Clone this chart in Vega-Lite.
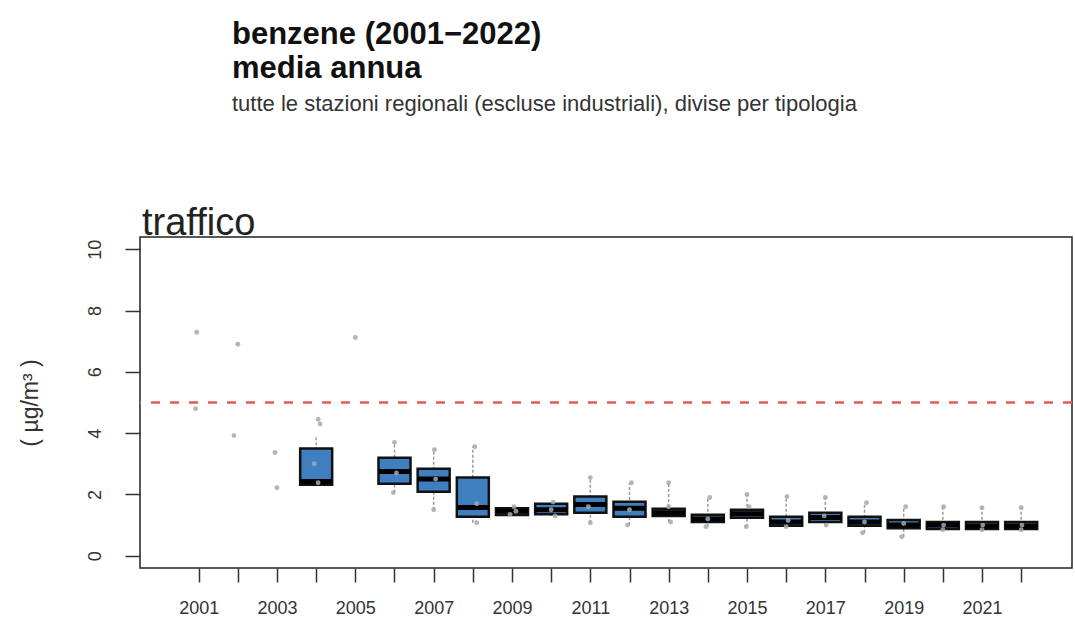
{
  "$schema": "https://vega.github.io/schema/vega-lite/v6.json",
  "width": 932,
  "height": 331,
  "autosize": {"type": "none"},
  "padding": {"left": 140, "top": 237, "right": 3, "bottom": 56},
  "background": "white",
  "config": {
    "font": "Liberation Sans",
    "view": {"stroke": "#222222", "strokeWidth": 1.5}
  },
  "title": {
    "text": ["benzene (2001−2022)", "media annua"],
    "subtitle": "tutte le stazioni regionali (escluse industriali), divise per tipologia",
    "anchor": "start",
    "frame": "group",
    "dx": 92,
    "offset": 89,
    "fontSize": 31,
    "fontWeight": "bold",
    "lineHeight": 34,
    "color": "#111111",
    "subtitleFontSize": 22,
    "subtitleColor": "#333333",
    "subtitlePadding": 9
  },
  "datasets": {
    "boxes": [
      {"year": 2004, "lo": 2.3, "q1": 2.32, "med": 2.42, "q3": 3.5, "hi": 3.86},
      {"year": 2006, "lo": 2.06, "q1": 2.35, "med": 2.75, "q3": 3.2, "hi": 3.7},
      {"year": 2007, "lo": 1.5, "q1": 2.09, "med": 2.5, "q3": 2.84, "hi": 3.46},
      {"year": 2008, "lo": 1.08, "q1": 1.27, "med": 1.57, "q3": 2.55, "hi": 3.56},
      {"year": 2009, "lo": 1.3, "q1": 1.33, "med": 1.45, "q3": 1.55, "hi": 1.62},
      {"year": 2010, "lo": 1.3, "q1": 1.35, "med": 1.5, "q3": 1.7, "hi": 1.75},
      {"year": 2011, "lo": 1.08, "q1": 1.4, "med": 1.67, "q3": 1.93, "hi": 2.55},
      {"year": 2012, "lo": 1.0, "q1": 1.27, "med": 1.55, "q3": 1.76, "hi": 2.38},
      {"year": 2013, "lo": 1.1, "q1": 1.3, "med": 1.4, "q3": 1.53, "hi": 2.38},
      {"year": 2014, "lo": 0.95, "q1": 1.1, "med": 1.2, "q3": 1.34, "hi": 1.9},
      {"year": 2015, "lo": 0.95, "q1": 1.24, "med": 1.37, "q3": 1.5, "hi": 2.0},
      {"year": 2016, "lo": 0.95, "q1": 0.98, "med": 1.1, "q3": 1.27, "hi": 1.93},
      {"year": 2017, "lo": 1.0, "q1": 1.1, "med": 1.25, "q3": 1.4, "hi": 1.9},
      {"year": 2018, "lo": 0.75, "q1": 0.98, "med": 1.1, "q3": 1.27, "hi": 1.73},
      {"year": 2019, "lo": 0.62, "q1": 0.9, "med": 1.0, "q3": 1.17, "hi": 1.6},
      {"year": 2020, "lo": 0.85, "q1": 0.87, "med": 1.0, "q3": 1.1, "hi": 1.6},
      {"year": 2021, "lo": 0.85, "q1": 0.87, "med": 0.97, "q3": 1.1, "hi": 1.57},
      {"year": 2022, "lo": 0.85, "q1": 0.87, "med": 0.97, "q3": 1.1, "hi": 1.57}
    ],
    "points": [
      {"year": 2000.95, "v": 7.29}, {"year": 2000.92, "v": 4.8},
      {"year": 2002, "v": 6.9}, {"year": 2001.9, "v": 3.92},
      {"year": 2002.95, "v": 3.37}, {"year": 2003, "v": 2.22},
      {"year": 2004.05, "v": 4.45}, {"year": 2004.1, "v": 4.3}, {"year": 2004.05, "v": 2.38}, {"year": 2003.95, "v": 3.0},
      {"year": 2005, "v": 7.12},
      {"year": 2006, "v": 3.7}, {"year": 2005.97, "v": 2.06}, {"year": 2006.05, "v": 2.7},
      {"year": 2007.02, "v": 3.46}, {"year": 2007, "v": 1.5}, {"year": 2007.05, "v": 2.5},
      {"year": 2008.05, "v": 3.56}, {"year": 2008.1, "v": 1.08}, {"year": 2008.1, "v": 1.7},
      {"year": 2009.05, "v": 1.6}, {"year": 2008.95, "v": 1.35}, {"year": 2009.1, "v": 1.45},
      {"year": 2010.05, "v": 1.75}, {"year": 2010.1, "v": 1.3}, {"year": 2010, "v": 1.5},
      {"year": 2011, "v": 2.55}, {"year": 2011, "v": 1.08}, {"year": 2010.95, "v": 1.6},
      {"year": 2012.05, "v": 2.38}, {"year": 2011.95, "v": 1.0}, {"year": 2012, "v": 1.5},
      {"year": 2013, "v": 2.38}, {"year": 2013.05, "v": 1.1}, {"year": 2013, "v": 1.6},
      {"year": 2014.05, "v": 1.9}, {"year": 2013.95, "v": 0.95}, {"year": 2014, "v": 1.2},
      {"year": 2015, "v": 2.0}, {"year": 2014.98, "v": 0.95}, {"year": 2015.05, "v": 1.6},
      {"year": 2016.02, "v": 1.93}, {"year": 2016, "v": 0.95}, {"year": 2016.05, "v": 1.15},
      {"year": 2017, "v": 1.9}, {"year": 2017.02, "v": 1.0}, {"year": 2016.97, "v": 1.3},
      {"year": 2018.05, "v": 1.73}, {"year": 2017.95, "v": 0.75}, {"year": 2018, "v": 1.1},
      {"year": 2019.05, "v": 1.6}, {"year": 2018.95, "v": 0.62}, {"year": 2019, "v": 1.05},
      {"year": 2020.02, "v": 1.6}, {"year": 2020, "v": 0.85}, {"year": 2020.02, "v": 1.0},
      {"year": 2021, "v": 1.57}, {"year": 2021, "v": 0.85}, {"year": 2021.02, "v": 1.0},
      {"year": 2022, "v": 1.57}, {"year": 2022, "v": 0.85}, {"year": 2022.02, "v": 1.0}
    ],
    "limit": [{"limit": 5}],
    "panel": [{"year": 1999.63, "top": 10.4, "label": "traffico"}]
  },
  "layer": [
    {
      "data": {"name": "limit"},
      "mark": {"type": "rule", "color": "#E45A58", "strokeWidth": 2.5, "strokeDash": [9, 10]},
      "encoding": {
        "y": {
          "field": "limit", "type": "quantitative",
          "scale": {"domain": [-0.4, 10.4], "nice": false, "zero": false},
          "axis": {
            "values": [0, 2, 4, 6, 8, 10],
            "grid": false, "domain": false,
            "tickSize": 15, "tickWidth": 1.5, "tickColor": "#333333",
            "labelFontSize": 18, "labelColor": "#333333",
            "labelAngle": 270, "labelAlign": "center", "labelBaseline": "bottom",
            "labelPadding": 21,
            "title": "( µg/m³ )", "titleFontSize": 23, "titleFontWeight": "normal",
            "titleColor": "#333333", "titlePadding": 44
          }
        }
      }
    },
    {
      "data": {"name": "boxes"},
      "mark": {"type": "rule", "color": "#9a9a9a", "strokeWidth": 1.5, "strokeDash": [3, 2]},
      "encoding": {
        "x": {
          "field": "year", "type": "quantitative",
          "scale": {"domain": [1999.63, 2023.17], "nice": false, "zero": false},
          "axis": {
            "values": [2001, 2002, 2003, 2004, 2005, 2006, 2007, 2008, 2009, 2010, 2011, 2012, 2013, 2014, 2015, 2016, 2017, 2018, 2019, 2020, 2021, 2022],
            "format": "d",
            "labelExpr": "datum.value % 2 == 1 ? datum.label : ''",
            "grid": false, "domain": false,
            "tickSize": 14, "tickWidth": 1.5, "tickColor": "#333333",
            "labelFontSize": 18, "labelColor": "#333333", "labelPadding": 17,
            "labelOverlap": false,
            "title": null
          }
        },
        "y": {"field": "lo", "type": "quantitative"},
        "y2": {"field": "hi"}
      }
    },
    {
      "data": {"name": "boxes"},
      "mark": {"type": "bar", "width": 32, "fill": "#3F7FBF", "stroke": "#111111", "strokeWidth": 2.5},
      "encoding": {
        "x": {"field": "year", "type": "quantitative"},
        "y": {"field": "q1", "type": "quantitative"},
        "y2": {"field": "q3"}
      }
    },
    {
      "data": {"name": "boxes"},
      "mark": {"type": "tick", "orient": "horizontal", "size": 32, "thickness": 5, "color": "#000000", "opacity": 1},
      "encoding": {
        "x": {"field": "year", "type": "quantitative"},
        "y": {"field": "med", "type": "quantitative"}
      }
    },
    {
      "data": {"name": "points"},
      "mark": {"type": "circle", "size": 24, "color": "#a8a8a8", "opacity": 0.85},
      "encoding": {
        "x": {"field": "year", "type": "quantitative"},
        "y": {"field": "v", "type": "quantitative"}
      }
    },
    {
      "data": {"name": "panel"},
      "mark": {"type": "text", "align": "left", "baseline": "alphabetic", "dx": -3, "dy": -2, "fontSize": 38, "color": "#222222"},
      "encoding": {
        "x": {"field": "year", "type": "quantitative"},
        "y": {"field": "top", "type": "quantitative"},
        "text": {"field": "label"}
      }
    }
  ]
}
